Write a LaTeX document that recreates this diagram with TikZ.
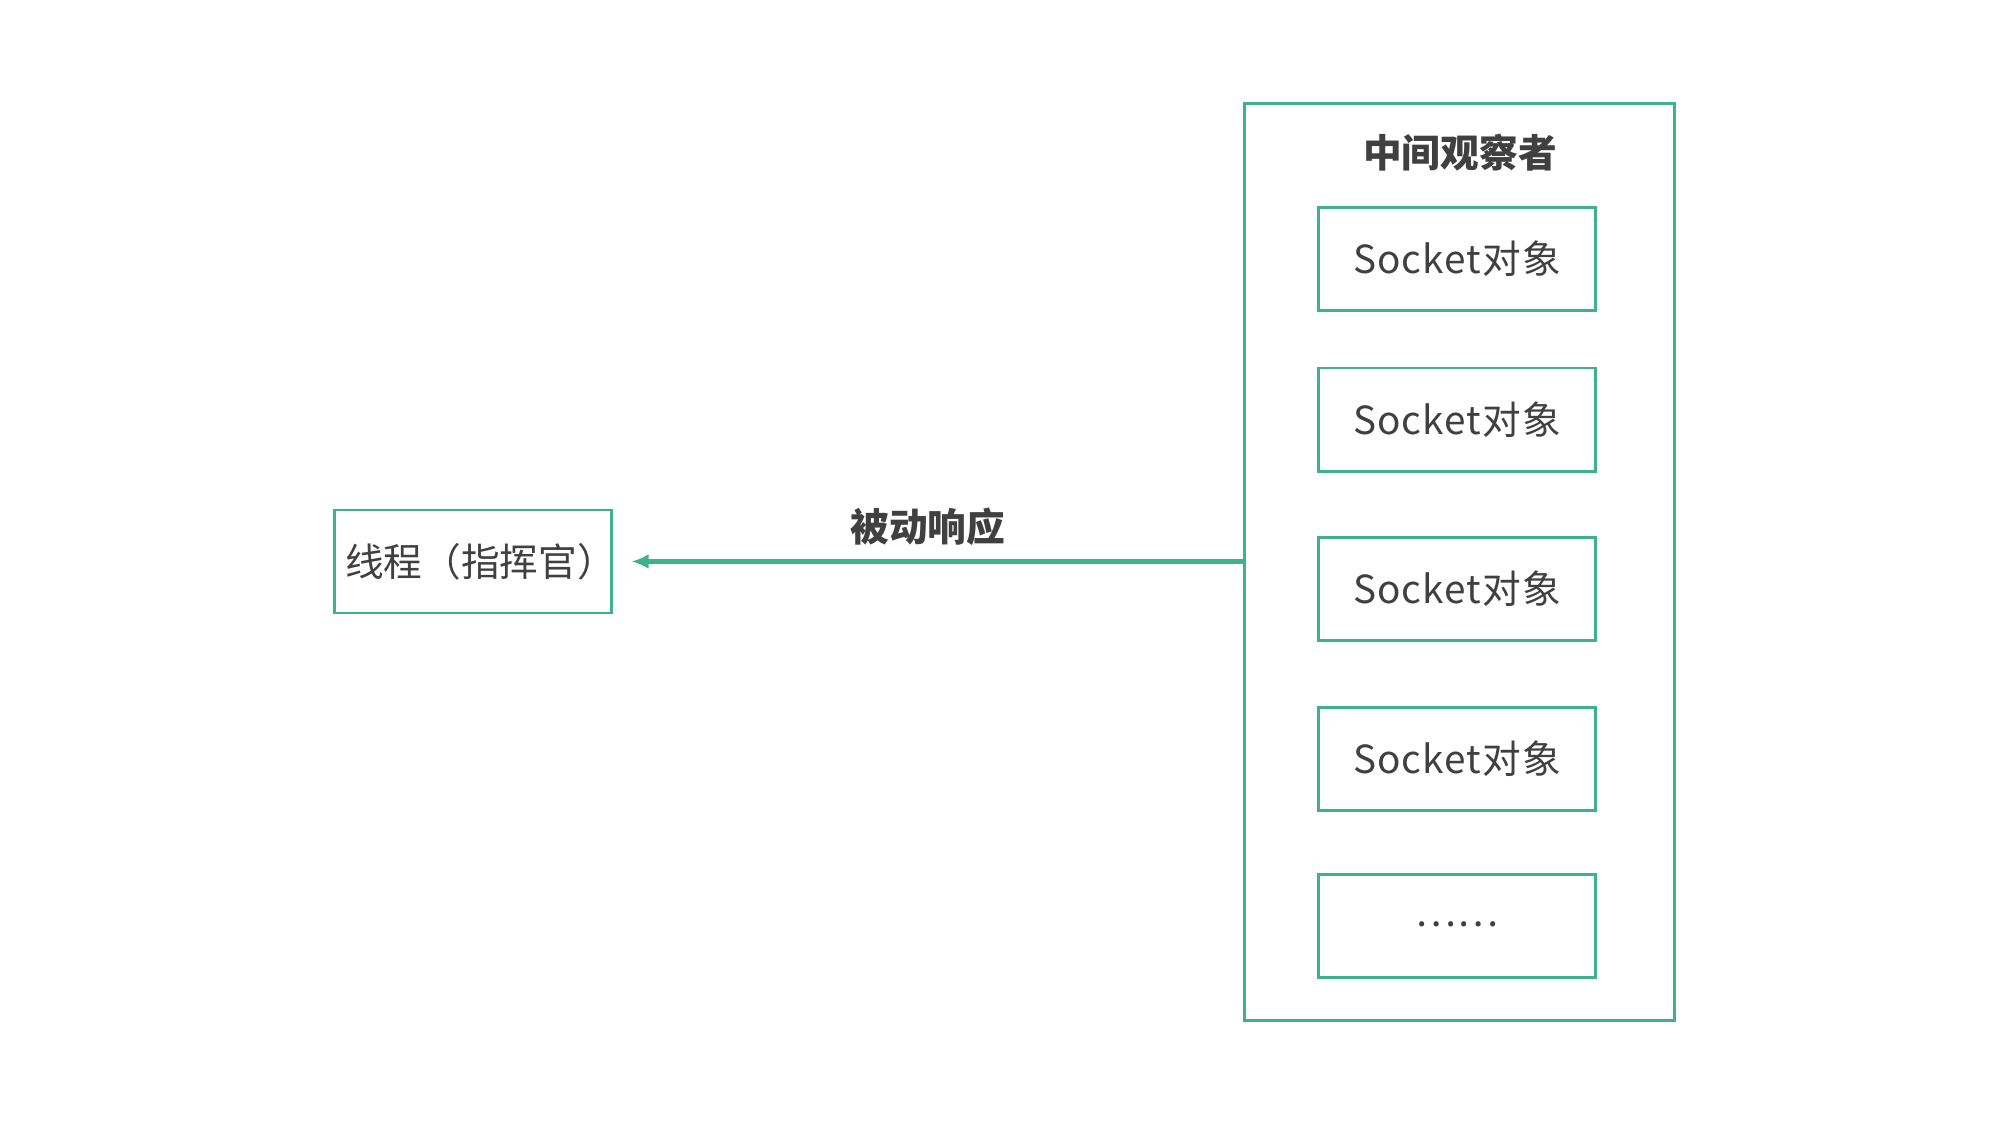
\documentclass[tikz,border=0pt]{standalone}
\usepackage{fontspec}
\setmainfont{Noto Sans CJK SC}
\newfontfamily\socketfont{Noto Sans CJK SC}[LetterSpace=3]
\usepackage{tikz}
\usetikzlibrary{positioning, arrows.meta}
\definecolor{boxgreen}{RGB}{61,178,140}
\definecolor{textgray}{RGB}{64,64,64}

\tikzset{
  greenbox/.style={draw=boxgreen, line width=0.8pt, text=textgray, inner sep=0pt, outer sep=0pt, font=\fontsize{11}{13}\selectfont},
  socketbox/.style={greenbox, minimum width=2.77cm, minimum height=1.03cm, font=\fontsize{11}{13}\socketfont},
  boldlabel/.style={text=textgray, font=\fontsize{11}{13}\selectfont\bfseries},
}

\begin{document}
\begin{tikzpicture}[x=0.01cm, y=-0.01cm]

                % canvas
                \useasboundingbox[fill=white] (0,0) rectangle (2000,1125);

                % observer frame
                \node[greenbox, minimum width=4.30cm, minimum height=9.17cm] (observer) at (1459.5, 562) {};
                \node[boldlabel] (observertitle) at (1460, 153) {中间观察者};

                % socket objects
                \node[socketbox] (socket1) at (1457, 259) {Socket对象};
                \node[socketbox, below=0.575cm of socket1] (socket2) {Socket对象};
                \node[socketbox, below=0.66cm of socket2] (socket3) {Socket对象};
                \node[socketbox, below=0.67cm of socket3] (socket4) {Socket对象};
                \node[socketbox, below=0.64cm of socket4] (socketmore) {\raisebox{0.04cm}{……}};

                % thread
                \node[greenbox, minimum width=2.77cm, minimum height=1.03cm] (thread) at (473, 561.5) {\makebox[2.5cm][c]{\hspace{0.15cm}线程（指挥官）}};

                % passive response
                \draw[boxgreen, line width=1.2pt, -{Latex[length=0.17cm, width=0.15cm]}, shorten >=0.2cm] (observer.west |- thread.east) -- (thread.east) node [pos=0.5, above=0.02cm, boldlabel] (responselabel) {被动响应};

\end{tikzpicture}
\end{document}
